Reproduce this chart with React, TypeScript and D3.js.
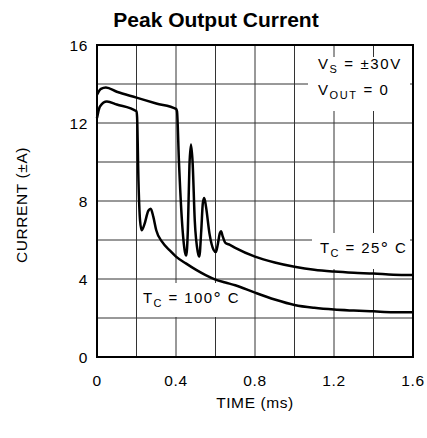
import React from 'react';
import * as d3 from 'd3';

// Peak output current vs time
const T25_TIME = [0, 0.02, 0.045, 0.1, 0.2, 0.3, 0.4, 0.405, 0.415, 0.43, 0.445, 0.452, 0.46, 0.468, 0.476, 0.484, 0.495, 0.51, 0.518, 0.528, 0.536, 0.543, 0.552, 0.57, 0.59, 0.602, 0.612, 0.622, 0.628, 0.636, 0.65, 0.673, 0.7, 0.8, 0.9, 1.0, 1.1, 1.2, 1.3, 1.4, 1.5, 1.6];
const T25_CURRENT = [13.45, 13.75, 13.82, 13.6, 13.3, 13.0, 12.72, 12.6, 10, 7, 5.4, 5.2, 6.5, 9.8, 10.9, 10, 7, 5.4, 5.15, 6.5, 7.9, 8.15, 7.7, 6.3, 5.5, 5.38, 5.8, 6.35, 6.45, 6.2, 5.85, 5.75, 5.6, 5.15, 4.85, 4.63, 4.47, 4.38, 4.32, 4.28, 4.22, 4.2];

const T100_TIME = [0, 0.015, 0.05, 0.1, 0.2, 0.203, 0.21, 0.218, 0.226, 0.24, 0.26, 0.272, 0.285, 0.3, 0.33, 0.37, 0.4, 0.45, 0.5, 0.55, 0.6, 0.65, 0.7, 0.8, 0.9, 1.0, 1.1, 1.2, 1.3, 1.4, 1.5, 1.6];
const T100_CURRENT = [12.25, 12.85, 13.1, 12.95, 12.6, 12.3, 9, 7, 6.5, 6.8, 7.5, 7.6, 7.2, 6.5, 5.9, 5.45, 5.15, 4.8, 4.48, 4.2, 3.97, 3.82, 3.68, 3.3, 2.95, 2.67, 2.52, 2.43, 2.38, 2.34, 2.3, 2.29];

const X_TICKS = [0, 0.4, 0.8, 1.2, 1.6];
const X_TICK_LABELS = ['0', '0.4', '0.8', '1.2', '1.6'];
const Y_TICKS = [0, 4, 8, 12, 16];
const X_GRID = d3.range(0, 1.61, 0.2);
const Y_GRID = d3.range(0, 16.1, 2);

const W = 427;
const H = 438;
const FONT = '"Liberation Sans", Arial, sans-serif';

export default function App() {
  const x = d3.scaleLinear().domain([0, 1.6]).range([97, 413]);
  const y = d3.scaleLinear().domain([0, 16]).range([357, 45]);

  const line = d3.line<[number, number]>()
    .x(d => x(d[0]))
    .y(d => y(d[1]))
    .curve(d3.curveMonotoneX);

  const p25 = line(T25_TIME.map((t, i) => [t, T25_CURRENT[i]]));
  const p100 = line(T100_TIME.map((t, i) => [t, T100_CURRENT[i]]));

  return (
    <svg width={W} height={H} style={{ position: 'absolute', left: 0, top: 0, background: '#fff' }}>
      <text x={216} y={27} textAnchor="middle" fontFamily={FONT} fontWeight="bold" fontSize={21}>
        Peak Output Current
      </text>

      {/* grid */}
      {X_GRID.map(v => (
        <line key={'gx' + v} x1={x(v)} x2={x(v)} y1={y(0)} y2={y(16)} stroke="#333" strokeWidth={1} />
      ))}
      {Y_GRID.map(v => (
        <line key={'gy' + v} x1={x(0)} x2={x(1.6)} y1={y(v)} y2={y(v)} stroke="#333" strokeWidth={1} />
      ))}

      {/* label backgrounds cut the grid */}
      <rect x={308} y={57} width={102} height={54} fill="#fff" />
      <rect x={312} y={233} width={98} height={36} fill="#fff" />
      <rect x={140} y={283} width={100} height={34} fill="#fff" />

      <rect x={x(0)} y={y(16)} width={x(1.6) - x(0)} height={y(0) - y(16)} fill="none" stroke="#000" strokeWidth={2} />

      <path d={p25 ?? ''} fill="none" stroke="#000" strokeWidth={2.5} strokeLinejoin="round" />
      <path d={p100 ?? ''} fill="none" stroke="#000" strokeWidth={2.5} strokeLinejoin="round" />

      {/* annotations */}
      <g fontFamily={FONT} fontSize={15} fill="#000">
        <text x={318} y={69} letterSpacing={1.6}>
          V<tspan fontSize={11} dy={4}>S</tspan><tspan dy={-4}> = ±30V</tspan>
        </text>
        <text x={318} y={95} letterSpacing={1.6}>
          V<tspan fontSize={11} dy={4}>OUT</tspan><tspan dy={-4}> = 0</tspan>
        </text>
        <text x={320} y={253} letterSpacing={1.4}>
          T<tspan fontSize={11} dy={4}>C</tspan><tspan dy={-4}> = 25</tspan><tspan fontSize={18} dy={2}>°</tspan><tspan dy={-2}> C</tspan>
        </text>
        <text x={143} y={303} letterSpacing={1.4}>
          T<tspan fontSize={11} dy={4}>C</tspan><tspan dy={-4}> = 100</tspan><tspan fontSize={18} dy={2}>°</tspan><tspan dy={-2}> C</tspan>
        </text>
      </g>

      {/* tick labels */}
      <g fontFamily={FONT} fontSize={15.5} fill="#000" letterSpacing={0.6}>
        {X_TICKS.map((v, i) => (
          <text key={'xt' + v} x={x(v)} y={386} textAnchor="middle">{X_TICK_LABELS[i]}</text>
        ))}
        {Y_TICKS.map(v => (
          <text key={'yt' + v} x={88} y={y(v)} dy="0.36em" textAnchor="end">{v}</text>
        ))}
        <text x={255} y={408} textAnchor="middle">TIME (ms)</text>
        <text transform="translate(27,205) rotate(-90)" textAnchor="middle">CURRENT (±A)</text>
      </g>
    </svg>
  );
}
